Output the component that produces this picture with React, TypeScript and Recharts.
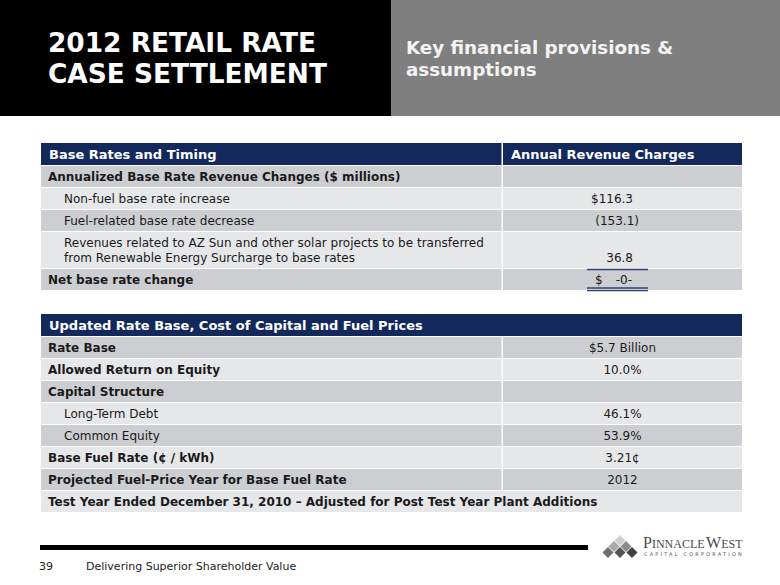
import React from "react";
import { ComposedChart, XAxis, YAxis, ReferenceArea, ReferenceLine, Customized } from "recharts";

// ---- slide text ----
const titleLines = ["2012 RETAIL RATE", "CASE SETTLEMENT"];
const subtitleLines = ["Key financial provisions &", "assumptions"];

// ---- table 1: base rates ----
const rateHeaders = ["Base Rates and Timing", "Annual Revenue Charges"];
const rateLabels = [
  "Annualized Base Rate Revenue Changes ($ millions)",
  "Non-fuel base rate increase",
  "Fuel-related base rate decrease",
  "Revenues related to AZ Sun and other solar projects to be transferred\nfrom Renewable Energy Surcharge to base rates",
  "Net base rate change",
];
const rateValues = ["", "$116.3", "(153.1)", "36.8", "$|-0-"];
const rateLevels = [0, 1, 1, 1, 0];

// ---- table 2: rate base / cost of capital ----
const capitalHeader = "Updated Rate Base, Cost of Capital and Fuel Prices";
const capitalLabels = [
  "Rate Base",
  "Allowed Return on Equity",
  "Capital Structure",
  "Long-Term Debt",
  "Common Equity",
  "Base Fuel Rate (¢ / kWh)",
  "Projected Fuel-Price Year for Base Fuel Rate",
  "Test Year Ended December 31, 2010 – Adjusted for Post Test Year Plant Additions",
];
const capitalValues: (string | null)[] = ["$5.7 Billion", "10.0%", "", "46.1%", "53.9%", "3.21¢", "2012", null];
const capitalLevels = [0, 0, 0, 1, 1, 0, 0, 0];

const footerPage = "39";
const footerText = "Delivering Superior Shareholder Value";

// ---- look ----
const W = 780;
const H = 585;
const FONT = "'DejaVu Sans', Verdana, sans-serif";
const NAVY = "#13295b";
const DARK = "#cdced2";
const LIGHT = "#e6e7e9";
const INK = "#1a1a1a";

const X0 = 41;
const XDIV = 502;
const X1 = 742;
const HEAD_H = 22;
const ROW_H = 21;
const GAP = 1;
const STEP = 15;

function layoutRows(top: number, labels: string[]) {
  let y = top + HEAD_H + GAP;
  return labels.map((l) => {
    const n = l.split("\n").length;
    const h = ROW_H + (n - 1) * STEP;
    const r = { y0: y, y1: y + h };
    y += h + GAP;
    return r;
  });
}

type TextOpts = {
  dx?: number;
  anchor?: "start" | "middle" | "end";
  bold?: boolean;
  color?: string;
  size?: number;
  step?: number;
  top?: number;
  valign?: "center" | "last";
  nLines?: number;
};

const textLabel = (lines: string[], o: TextOpts) => (props: any) => {
  const vb = props.viewBox;
  if (!vb) return null;
  const size = o.size ?? 12;
  const step = o.step ?? STEP;
  const anchor = o.anchor ?? "start";
  const x =
    anchor === "middle"
      ? vb.x + vb.width / 2 + (o.dx ?? 0)
      : anchor === "end"
      ? vb.x + vb.width + (o.dx ?? 0)
      : vb.x + (o.dx ?? 0);
  const n = lines.length;
  const cy = vb.y + vb.height / 2;
  const baseFor = (i: number) => {
    if (o.top != null) return vb.y + o.top + i * step;
    if (o.valign === "last") {
      const total = o.nLines ?? 1;
      return cy + ((total - 1) / 2) * step + size * 0.36;
    }
    return cy + (i - (n - 1) / 2) * step + size * 0.36;
  };
  return (
    <text
      fontFamily={FONT}
      fontSize={size}
      fontWeight={o.bold ? "bold" : "normal"}
      fill={o.color ?? INK}
      textAnchor={anchor}
    >
      {lines.map((l, i) => (
        <tspan key={i} x={x} y={baseFor(i)}>
          {l}
        </tspan>
      ))}
    </text>
  );
};

function Logo() {
  const d = 5.5;
  const diamonds: [number, number, string][] = [
    [620, 540.5, "#cfcfcf"],
    [614, 546.5, "#a9a9a9"],
    [626, 546.5, "#8c8c8c"],
    [608, 552.5, "#6e6e6e"],
    [620, 552.5, "#555555"],
    [632, 552.5, "#404040"],
  ];
  return (
    <g>
      {diamonds.map(([cx, cy, c], i) => (
        <polygon
          key={i}
          points={`${cx},${cy - d} ${cx + d},${cy} ${cx},${cy + d} ${cx - d},${cy}`}
          fill={c}
        />
      ))}
      <text x={643} y={548} fontFamily="'Liberation Serif', serif" fill="#4a4a4a">
        <tspan fontSize={16}>P</tspan>
        <tspan fontSize={12}>INNACLE</tspan>
        <tspan fontSize={16} dx={1.5}>W</tspan>
        <tspan fontSize={12}>EST</tspan>
      </text>
      <text x={644} y={556} fontSize={5} letterSpacing={2.2} fontFamily={FONT} fill="#555">
        CAPITAL CORPORATION
      </text>
      <text x={39} y={570} fontFamily={FONT} fontSize={11} fill="#222">
        {footerPage}
      </text>
      <text x={86} y={570} fontFamily={FONT} fontSize={11} fill="#222">
        {footerText}
      </text>
    </g>
  );
}

function Area(props: any) {
  return <ReferenceArea fillOpacity={1} stroke="none" ifOverflow="visible" {...props} />;
}

export default function App() {
  const T1 = 143;
  const T2 = 314;
  const rateRows = layoutRows(T1, rateLabels);
  const capRows = layoutRows(T2, capitalLabels);

  const els: React.ReactNode[] = [];

  // slide header
  els.push(
    <Area key="hdrL" x1={0} x2={391} y1={0} y2={116} fill="#000"
      label={textLabel(titleLines, { dx: 48, top: 52, step: 31, size: 26.4, bold: true, color: "#fff" })} />,
    <Area key="hdrR" x1={391} x2={W} y1={0} y2={116} fill="#7f7f7f"
      label={textLabel(subtitleLines, { dx: 15, top: 54, step: 22, size: 18.3, bold: true, color: "#f4f4f4" })} />
  );

  // table 1 header
  els.push(
    <Area key="t1h0" x1={X0} x2={XDIV - 0.5} y1={T1} y2={T1 + HEAD_H} fill={NAVY}
      label={textLabel([rateHeaders[0]], { dx: 8, size: 13, bold: true, color: "#fff" })} />,
    <Area key="t1h1" x1={XDIV + 1} x2={X1} y1={T1} y2={T1 + HEAD_H} fill={NAVY}
      label={textLabel([rateHeaders[1]], { dx: 8, size: 13, bold: true, color: "#fff" })} />
  );
  rateLabels.forEach((lab, i) => {
    const r = rateRows[i];
    const fill = i % 2 === 0 ? DARK : LIGHT;
    const lines = lab.split("\n");
    const lvl = rateLevels[i];
    els.push(
      <Area key={`t1l${i}`} x1={X0} x2={XDIV - 0.5} y1={r.y0} y2={r.y1} fill={fill}
        label={textLabel(lines, { dx: lvl ? 23 : 7, bold: lvl === 0, size: 12 })} />
    );
    const v = rateValues[i];
    let lbl: any = undefined;
    if (v.includes("|")) {
      // "$" sits to the left, the amount is right-aligned with the column
      const [a, b] = v.split("|");
      lbl = (p: any) => (
        <g>
          {textLabel([a], { dx: 92, size: 12 })(p)}
          {textLabel([b], { dx: -110, size: 12, anchor: "end" })(p)}
        </g>
      );
    } else if (v) {
      const adj = v.startsWith("(") ? 6 : 0;
      lbl = textLabel([v], { dx: -109 + adj, anchor: "end", size: 12, valign: "last", nLines: lines.length });
    }
    els.push(
      <Area key={`t1v${i}`} x1={XDIV + 1} x2={X1} y1={r.y0} y2={r.y1} fill={fill} label={lbl} />
    );
  });

  // net change underlines
  const net = rateRows[rateRows.length - 1];
  const uline = "#2c4170";
  els.push(
    <ReferenceLine key="u1" segment={[{ x: 587, y: net.y0 + 0.5 }, { x: 648, y: net.y0 + 0.5 }]} stroke={uline} strokeWidth={1.6} ifOverflow="visible" />,
    <ReferenceLine key="u2" segment={[{ x: 587, y: net.y1 - 2 }, { x: 648, y: net.y1 - 2 }]} stroke={uline} strokeWidth={1.3} ifOverflow="visible" />,
    <ReferenceLine key="u3" segment={[{ x: 587, y: net.y1 + 0.6 }, { x: 648, y: net.y1 + 0.6 }]} stroke={uline} strokeWidth={1.3} ifOverflow="visible" />
  );

  // table 2
  els.push(
    <Area key="t2h" x1={X0} x2={X1} y1={T2} y2={T2 + HEAD_H} fill={NAVY}
      label={textLabel([capitalHeader], { dx: 8, size: 13, bold: true, color: "#fff" })} />
  );
  capitalLabels.forEach((lab, i) => {
    const r = capRows[i];
    const fill = i % 2 === 0 ? DARK : LIGHT;
    const lvl = capitalLevels[i];
    const v = capitalValues[i];
    const span = v === null;
    els.push(
      <Area key={`t2l${i}`} x1={X0} x2={span ? X1 : XDIV - 0.5} y1={r.y0} y2={r.y1} fill={fill}
        label={textLabel([lab], { dx: lvl ? 23 : 7, bold: lvl === 0, size: 12 })} />
    );
    if (!span) {
      els.push(
        <Area key={`t2v${i}`} x1={XDIV + 1} x2={X1} y1={r.y0} y2={r.y1} fill={fill}
          label={v ? textLabel([v], { anchor: "middle", size: 12 }) : undefined} />
      );
    }
  });

  // footer rule
  els.push(<Area key="foot" x1={40} x2={588} y1={545} y2={550} fill="#000" />);

  return (
    <div style={{ position: "absolute", left: 0, top: 0, width: W, height: H, background: "#fff" }}>
      <ComposedChart width={W} height={H} data={[]} margin={{ top: 0, right: 0, bottom: 0, left: 0 }}>
        <XAxis type="number" dataKey="x" domain={[0, W]} allowDataOverflow hide />
        <YAxis type="number" dataKey="y" domain={[0, H]} allowDataOverflow reversed hide />
        {els}
        <Customized component={<Logo />} />
      </ComposedChart>
    </div>
  );
}
